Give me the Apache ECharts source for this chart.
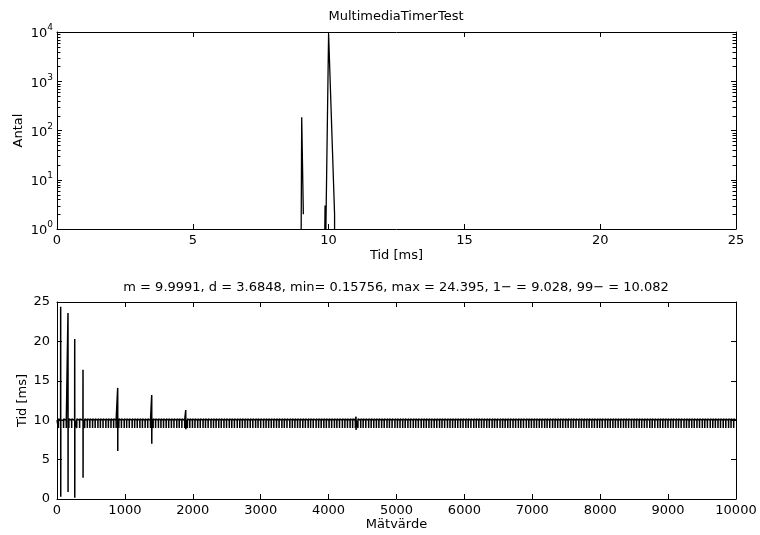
<!DOCTYPE html>
<html>
<head>
<meta charset="utf-8">
<script src="https://cdn.jsdelivr.net/npm/echarts@6/dist/echarts.min.js"></script>
<style>
html,body{margin:0;padding:0;background:#fff;}
#c{width:760px;height:535px;}
</style>
</head>
<body>
<div id="c"></div>
<script>
// ---------- data ----------
const topTitle = 'MultimediaTimerTest';
const bottomTitle = 'm = 9.9991, d = 3.6848, min= 0.15756, max = 24.395, 1\u2212 = 9.028, 99\u2212 = 10.082';

// histogram polyline (Tid [ms] vs Antal); null = break in the line
const histX = [8.99, 9.01, 9.07, null, 9.86, 9.87, null, 9.90, 10.00, 10.02, 10.22, 10.22];
const histY = [1, 185, 2, null, 1, 3, null, 1, 9200, 8400, 2, 1];

const topXTicks = [0, 5, 10, 15, 20, 25];
const topYTicks = [1, 10, 100, 1000, 10000];
const bottomXTicks = [0, 1000, 2000, 3000, 4000, 5000, 6000, 7000, 8000, 9000, 10000];
const bottomYTicks = [0, 5, 10, 15, 20, 25];

// time series (Mätvärde vs Tid [ms])
const baseLevel = 10.0;
const dipLevel = 9.0;
const afterDipLevel = 10.15;
const dipIdx = [
  21, 97, 137, 175, 216, 291, 333, 408, 447, 484, 524, 562, 603, 639, 678, 720, 757,
  795, 834, 871, 911, 949, 990, 1026, 1065, 1107, 1144,
  1182, 1221, 1258, 1298, 1336, 1377, 1416, 1452, 1494, 1531,
  1569, 1608, 1645, 1685, 1723, 1764, 1800, 1839, 1881, 1921,
  1956, 1995, 2032, 2072, 2110, 2151, 2187, 2226, 2268, 2305,
  2343, 2382, 2419, 2459, 2497, 2538, 2574, 2613, 2655, 2692,
  2730, 2769, 2806, 2846, 2884, 2925, 2961, 3000, 3042, 3079,
  3117, 3156, 3193, 3233, 3271, 3312, 3348, 3387, 3429, 3466,
  3504, 3543, 3580, 3620, 3658, 3699, 3735, 3774, 3816, 3853,
  3891, 3930, 3967, 4007, 4045, 4086, 4122, 4161, 4203, 4240,
  4278, 4317, 4354, 4394, 4432, 4473, 4509, 4548, 4590, 4627,
  4665, 4704, 4741, 4781, 4819, 4860, 4896, 4935, 4977, 5014,
  5052, 5091, 5128, 5168, 5206, 5247, 5283, 5322, 5364, 5401,
  5439, 5478, 5515, 5555, 5593, 5634, 5670, 5709, 5751, 5788,
  5826, 5865, 5902, 5942, 5980, 6021, 6057, 6096, 6138, 6175,
  6213, 6252, 6289, 6329, 6367, 6408, 6444, 6483, 6525, 6562,
  6600, 6639, 6676, 6716, 6754, 6795, 6831, 6870, 6912, 6949,
  6987, 7026, 7063, 7103, 7141, 7182, 7218, 7257, 7299, 7336,
  7374, 7413, 7450, 7490, 7528, 7569, 7605, 7644, 7686, 7723,
  7761, 7800, 7837, 7877, 7915, 7956, 7992, 8031, 8073, 8110,
  8148, 8187, 8224, 8264, 8302, 8343, 8379, 8418, 8460, 8497,
  8535, 8574, 8611, 8651, 8689, 8730, 8766, 8805, 8847, 8884,
  8922, 8961, 8998, 9038, 9076, 9117, 9153, 9192, 9234, 9271,
  9309, 9348, 9385, 9425, 9463, 9504, 9540, 9579, 9621, 9658,
  9696, 9735, 9772, 9812, 9850, 9891, 9927, 9966
];
const spikeIdx  = [54, 162, 261, 383, 894, 1395, 1896, 4404];
const spikeHigh = [24.395, 23.6, 20.3, 16.4, 14.1, 13.2, 11.3, 10.45];
const spikeLow  = [0.3, 0.9, 0.15756, 2.7, 6.1, 7.0, 8.85, 8.75];
const bumpIdx = [103, 511, 1080];
const bumpVal = [10.4, 10.3, 10.3];
const nSamples = 10000;

// ---------- build series ----------
const histData = histX.map((x, i) => (x === null ? ['-', '-'] : [x, histY[i]]));

const events = [];
dipIdx.forEach(i => events.push({ i: i, pts: [[i, dipLevel], [i + 1, afterDipLevel]] }));
spikeIdx.forEach((i, k) => events.push({ i: i, pts: [[i, spikeHigh[k]], [i + 1, spikeLow[k]]] }));
bumpIdx.forEach((i, k) => events.push({ i: i, pts: [[i, bumpVal[k]]] }));
events.sort((a, b) => a.i - b.i);
const seriesData = [[0, baseLevel]];
events.forEach(e => {
  seriesData.push([e.i - 1, baseLevel]);
  e.pts.forEach(p => seriesData.push(p));
  seriesData.push([e.pts[e.pts.length - 1][0] + 1, baseLevel]);
});
seriesData.push([nSamples, baseLevel]);

const minorTicks = [];
for (let k = 0; k < 4; k++) for (let m = 2; m <= 9; m++) minorTicks.push([0, m * Math.pow(10, k)]);

// ---------- chart ----------
const FONT = 'DejaVu Sans';
const FS = 13;
const chart = echarts.init(document.getElementById('c'), null, { renderer: 'canvas' });

const lineStyleBlack = { color: '#000', width: 1 };
const axLine = { show: true, onZero: false, lineStyle: lineStyleBlack };
const axTick = { show: true, inside: true, length: 5, lineStyle: lineStyleBlack };
const nameStyle = { fontFamily: FONT, fontSize: FS, color: '#000' };
function mirrorX(grid, min, max, interval) {
  return { type: 'value', gridIndex: grid, position: 'top', min, max, interval,
    axisLine: axLine, axisTick: axTick, axisLabel: { show: false }, splitLine: { show: false } };
}

const option = {
  animation: false,
  backgroundColor: '#fff',
  title: [
    { text: topTitle, left: 396, top: 10, textAlign: 'center', padding: 0,
      textStyle: { fontFamily: FONT, fontSize: FS, fontWeight: 'normal', color: '#000' } },
    { text: bottomTitle, left: 396, top: 281, textAlign: 'center', padding: 0,
      textStyle: { fontFamily: FONT, fontSize: FS, fontWeight: 'normal', color: '#000' } }
  ],
  grid: [
    { left: 57, top: 32, width: 679, height: 197 },
    { left: 57, top: 302, width: 679, height: 197 }
  ],
  xAxis: [
    { type: 'value', gridIndex: 0, min: 0, max: 25, interval: 5,
      name: 'Tid [ms]', nameLocation: 'middle', nameGap: 20, nameMoveOverlap: false,
      nameTextStyle: nameStyle,
      axisLine: axLine, axisTick: axTick,
      axisLabel: { fontFamily: FONT, fontSize: FS, color: '#000', margin: 5 },
      splitLine: { show: false } },
    mirrorX(0, 0, 25, 5),
    { type: 'value', gridIndex: 1, min: 0, max: 10000, interval: 1000,
      name: 'Mätvärde', nameLocation: 'middle', nameGap: 19, nameMoveOverlap: false,
      nameTextStyle: nameStyle,
      axisLine: axLine, axisTick: axTick,
      axisLabel: { fontFamily: FONT, fontSize: FS, color: '#000', margin: 5, formatter: v => String(v) },
      splitLine: { show: false } },
    mirrorX(1, 0, 10000, 1000)
  ],
  yAxis: [
    { type: 'log', logBase: 10, gridIndex: 0, min: 1, max: 10000,
      name: 'Antal', nameLocation: 'middle', nameGap: 32, nameRotate: 90, nameMoveOverlap: false,
      nameTextStyle: nameStyle,
      axisLine: axLine, axisTick: axTick,
      axisLabel: { margin: 4, color: '#000',
        formatter: v => '{b|10}{s|' + Math.round(Math.log10(v)) + '}',
        rich: {
          b: { fontFamily: FONT, fontSize: FS, color: '#000', verticalAlign: 'bottom' },
          s: { fontFamily: FONT, fontSize: 9, color: '#000', verticalAlign: 'bottom', padding: [0, 0, 8, 0] }
        } },
      splitLine: { show: false } },
    { type: 'log', logBase: 10, gridIndex: 0, min: 1, max: 10000, position: 'right',
      axisLine: axLine, axisTick: axTick, axisLabel: { show: false }, splitLine: { show: false } },
    { type: 'value', gridIndex: 1, min: 0, max: 25, interval: 5,
      name: 'Tid [ms]', nameLocation: 'middle', nameGap: 28, nameRotate: 90, nameMoveOverlap: false,
      nameTextStyle: nameStyle,
      axisLine: axLine, axisTick: axTick,
      axisLabel: { fontFamily: FONT, fontSize: FS, color: '#000', margin: 7 },
      splitLine: { show: false } },
    { type: 'value', gridIndex: 1, min: 0, max: 25, interval: 5, position: 'right',
      axisLine: axLine, axisTick: axTick, axisLabel: { show: false }, splitLine: { show: false } }
  ],
  series: [
    { type: 'line', xAxisIndex: 0, yAxisIndex: 0, data: histData, showSymbol: false, connectNulls: false,
      lineStyle: { color: '#000', width: 1.3 }, itemStyle: { color: '#000' }, silent: true },
    { type: 'custom', xAxisIndex: 0, yAxisIndex: 0, data: minorTicks, encode: { x: 0, y: 1 }, silent: true,
      renderItem: function (params, api) {
        const l = api.coord([0, api.value(1)]);
        const r = api.coord([25, api.value(1)]);
        const y = Math.round(l[1]) + 0.5;
        return { type: 'group', children: [
          { type: 'line', shape: { x1: l[0], y1: y, x2: l[0] + 3.5, y2: y }, style: { stroke: '#000', lineWidth: 1 } },
          { type: 'line', shape: { x1: r[0] - 3.5, y1: y, x2: r[0], y2: y }, style: { stroke: '#000', lineWidth: 1 } }
        ] };
      } },
    { type: 'line', xAxisIndex: 2, yAxisIndex: 2, data: seriesData, showSymbol: false, sampling: null,
      lineStyle: { color: '#000', width: 1.5 }, itemStyle: { color: '#000' }, silent: true }
  ]
};
chart.setOption(option);
</script>
</body>
</html>
